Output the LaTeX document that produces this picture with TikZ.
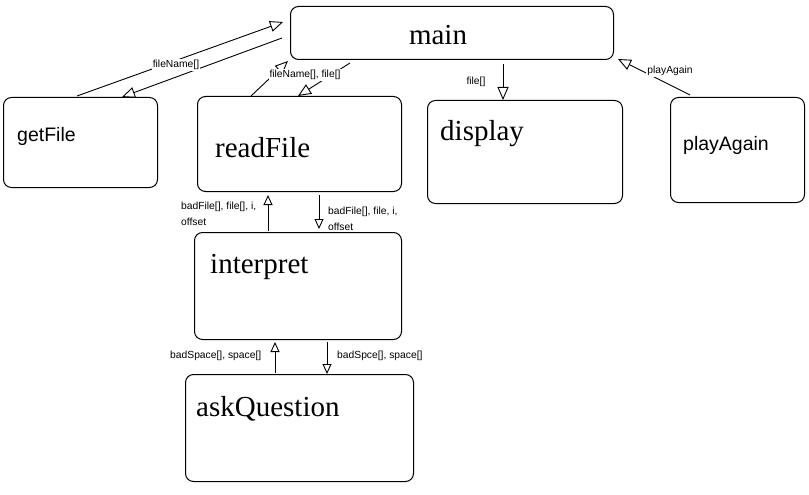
\documentclass[tikz,border=0pt]{standalone}
\usepackage{fontspec}
\setmainfont{Liberation Serif}
\newfontfamily\labsans{Liberation Sans}
\usetikzlibrary{arrows.meta,calc}
\begin{document}
\begin{tikzpicture}[x=1pt,y=-1pt,
  box/.style={draw,line width=1pt,rounded corners=8pt,inner sep=0pt,anchor=north west},
  bigserif/.style={font=\fontsize{29}{31}\selectfont,inner sep=0pt,anchor=west},
  bigsans/.style={font=\labsans\fontsize{19.5}{21}\selectfont,inner sep=0pt,anchor=west},
  small/.style={font=\labsans\fontsize{10.3}{16}\selectfont,inner sep=1pt,align=left},
  conn/.style={line width=0.9pt,-{Triangle[open,length=13pt,width=11pt]}},
  sconn/.style={line width=0.9pt,-{Triangle[open,length=10pt,width=9pt]}}]
\useasboundingbox (0,0) rectangle (809,495);
% boxes
\node[box,minimum width=323pt,minimum height=53pt] (main) at (290,6) {};
\node[box,minimum width=154pt,minimum height=90pt] (getFile) at (3,97) {};
\node[box,minimum width=204pt,minimum height=95pt] (readFile) at (197,96) {};
\node[box,minimum width=195pt,minimum height=103pt] (display) at (427,100) {};
\node[box,minimum width=134pt,minimum height=105pt] (playAgain) at (670,97) {};
\node[box,minimum width=207pt,minimum height=107pt] (interpret) at (194,232) {};
\node[box,minimum width=228pt,minimum height=107pt] (askQuestion) at (185,374) {};
% titles
\node[bigserif,anchor=center] (tmain) at (438,35) {main};
\node[bigsans] (tgetFile) at (17,136) {getFile};
\node[bigserif] (treadFile) at (215,148) {readFile};
\node[bigserif] (tdisplay) at (440,134) {display};
\node[bigsans] (tplayAgain) at (683,145) {playAgain};
\node[bigserif] (tinterpret) at (210,267) {interpret};
\node[bigserif] (taskQuestion) at (196,409) {askQuestion};
% connectors
\draw[conn] ($(getFile.north west)+(74,-1)$) -- ($(main.north west)+(-7,16)$);
\draw[conn] ($(main.north west)+(-8,32)$) -- ($(getFile.north west)+(119,0)$);
\draw[conn] ($(readFile.north west)+(54,0)$) -- ($(main.south west)+(-2,1)$);
\draw[conn] ($(main.south west)+(60,3)$) -- ($(readFile.north west)+(101,0)$);
\draw[conn] ($(main.south west)+(213,4)$) -- ($(display.north west)+(76,0)$);
\draw[conn] ($(playAgain.north west)+(20,-2)$) -- ($(main.south east)+(4,-1)$);
\draw[sconn] ($(interpret.north west)+(74,-1)$) -- ($(readFile.south west)+(71,3)$);
\draw[sconn] ($(readFile.south west)+(122,3)$) -- ($(interpret.north west)+(125,-3)$);
\draw[sconn] ($(askQuestion.north west)+(90,-1)$) -- ($(interpret.south west)+(81,2)$);
\draw[sconn] ($(interpret.south west)+(133,2)$) -- ($(askQuestion.north west)+(142,0)$);
% labels
\node[small,fill=white] (l1) at (176,65) {fileName[]};
\node[small,fill=white] (l2) at (305,75) {fileName[], file[]};
\node[small] (l3) at (476,82) {file[]};
\node[small,fill=white] (l4) at (670,71) {playAgain};
\node[small,anchor=north west] (l5) at (180,201) {badFile[], file[], i,\\offset};
\node[small,anchor=north west] (l6) at (327,206) {badFile[], file, i,\\offset};
\node[small,anchor=west] (l7) at (169,356) {badSpace[], space[]};
\node[small,anchor=west] (l8) at (336,356) {badSpce[], space[]};
\end{tikzpicture}
\end{document}
